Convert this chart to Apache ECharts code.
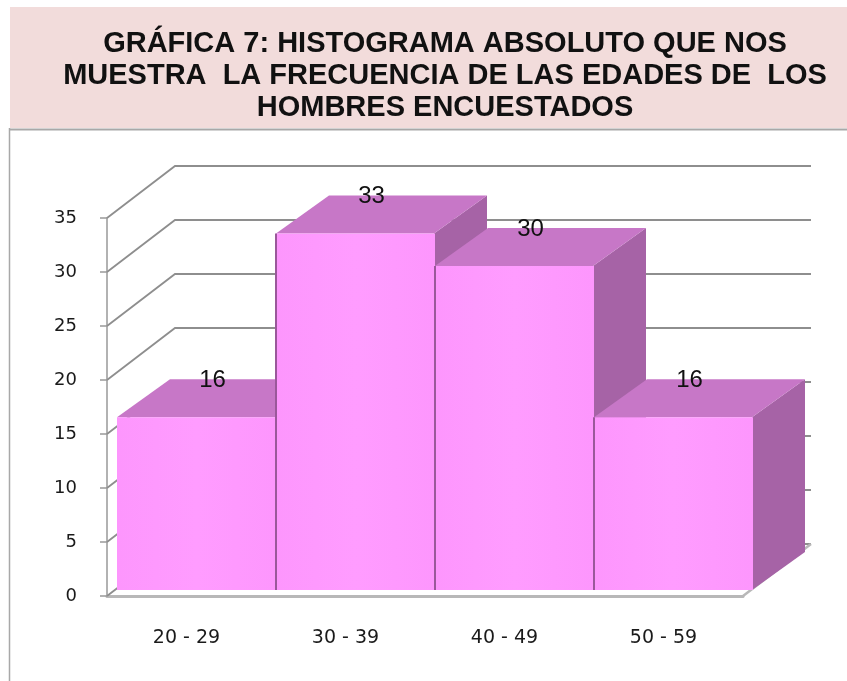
<!DOCTYPE html>
<html>
<head>
<meta charset="utf-8">
<script src="https://cdn.jsdelivr.net/npm/echarts@6/dist/echarts.min.js"></script>
<style>
html, body { margin: 0; padding: 0; background: #fff; }
#chart { width: 847px; height: 681px; }
</style>
</head>
<body>
<div id="chart"></div>
<script>
// datos de la grafica
var edades = ['20 - 29', '30 - 39', '40 - 49', '50 - 59'];
var hombres = [16, 33, 30, 16];
var marcasY = [0, 5, 10, 15, 20, 25, 30, 35];

var chart = echarts.init(document.getElementById('chart'));

// efecto 3d (pixeles)
var FONDO = [68, -52];   // profundidad de las paredes
var FRENTE = [10, -6];   // cara frontal de la barra
var PROF = [53, -38];    // profundidad de la barra

function renderPared(params, api) {
    var v = api.value(1);
    var cs = params.coordSys;
    var y = api.coord([0, v])[1];
    var x0 = cs.x, x1 = cs.x + cs.width;
    var hijos = [{
        type: 'polyline',
        shape: {points: [[x0, y], [x0 + FONDO[0], y + FONDO[1]], [x1 + FONDO[0], y + FONDO[1]]]},
        style: {stroke: '#8e8e8e', lineWidth: 1.8, fill: 'none'}
    }];
    if (v === 0) {
        hijos.push({
            type: 'line',
            shape: {x1: x1, y1: y, x2: x1 + FONDO[0], y2: y + FONDO[1]},
            style: {stroke: '#b8b8b8', lineWidth: 2.5}
        });
    }
    return {type: 'group', children: hijos};
}

function renderBarra(params, api) {
    var i = api.value(0), v = api.value(1);
    var arriba = api.coord([i, v]), base = api.coord([i, 0]);
    var w = api.size([1, 0])[0];
    var xl = arriba[0] - w / 2 + FRENTE[0], xr = xl + w - 1;
    var yt = arriba[1] + FRENTE[1], yb = base[1] + FRENTE[1];
    var dx = PROF[0], dy = PROF[1];
    var hijos = [
        {
            type: 'polygon',
            shape: {points: [[xr, yt], [xr + dx, yt + dy], [xr + dx, yb + dy], [xr, yb]]},
            style: {fill: '#a663a6'}
        },
        {
            type: 'polygon',
            shape: {points: [[xl, yt], [xl + dx, yt + dy], [xr + dx, yt + dy], [xr, yt]]},
            style: {fill: '#c777c7'}
        },
        {
            type: 'rect',
            shape: {x: xl, y: yt, width: w, height: yb - yt},
            style: {fill: new echarts.graphic.LinearGradient(0, 0, 1, 0, [
                {offset: 0, color: '#fd96fd'},
                {offset: 0.5, color: '#ff9cff'},
                {offset: 1, color: '#fd96fd'}
            ])}
        },
        {
            type: 'text',
            style: {
                x: arriba[0] + 26, y: arriba[1] - 43,
                text: String(v), align: 'center', verticalAlign: 'middle',
                fontFamily: 'Liberation Sans', fontSize: 24, fill: '#111'
            }
        }
    ];
    if (i > 0) {
        hijos.splice(3, 0, {
            type: 'line',
            shape: {x1: xl, y1: yt, x2: xl, y2: yb},
            style: {stroke: '#9a589a', lineWidth: 2}
        });
    }
    return {type: 'group', children: hijos};
}

var option = {
    animation: false,
    backgroundColor: '#fff',
    title: {
        text: 'GRÁFICA 7: HISTOGRAMA ABSOLUTO QUE NOS\nMUESTRA  LA FRECUENCIA DE LAS EDADES DE  LOS\nHOMBRES ENCUESTADOS',
        left: 440,
        top: 23,
        textAlign: 'center',
        textStyle: {
            fontFamily: 'Liberation Sans',
            fontWeight: 'bold',
            fontSize: 29,
            lineHeight: 32,
            color: '#111'
        }
    },
    graphic: [
        {type: 'rect', z: -1, shape: {x: 10, y: 7, width: 837, height: 121}, style: {fill: '#f2dcdb'}},
        {type: 'line', z: -1, shape: {x1: 9, y1: 129.5, x2: 847, y2: 129.5}, style: {stroke: '#a8a8a8', lineWidth: 2}},
        {type: 'line', z: -1, shape: {x1: 9.5, y1: 128, x2: 9.5, y2: 681}, style: {stroke: '#a8a8a8', lineWidth: 1.5}}
    ],
    grid: {left: 107, right: 104, top: 218, bottom: 85},
    xAxis: {
        type: 'category',
        data: edades,
        axisLine: {lineStyle: {color: '#b8b8b8', width: 3}},
        axisTick: {length: 8, lineStyle: {color: '#999', width: 1.5}},
        axisLabel: {
            margin: 33,
            fontFamily: 'DejaVu Sans',
            fontSize: 19,
            color: '#1a1a1a'
        }
    },
    yAxis: {
        type: 'value',
        min: 0,
        max: 35,
        interval: 5,
        axisLine: {show: true, lineStyle: {color: '#999', width: 1.5}},
        axisTick: {show: true, length: 7, lineStyle: {color: '#999', width: 1.5}},
        splitLine: {show: false},
        axisLabel: {
            margin: 30,
            fontFamily: 'DejaVu Sans',
            fontSize: 18,
            color: '#1a1a1a'
        }
    },
    series: [
        {
            type: 'custom',
            name: 'paredes',
            renderItem: renderPared,
            data: marcasY.map(function (v) { return [0, v]; }),
            silent: true,
            z: 1
        },
        {
            type: 'custom',
            name: 'Hombres',
            renderItem: renderBarra,
            data: hombres.map(function (v, i) { return [i, v]; }),
            z: 2
        }
    ]
};

chart.setOption(option);
</script>
</body>
</html>
